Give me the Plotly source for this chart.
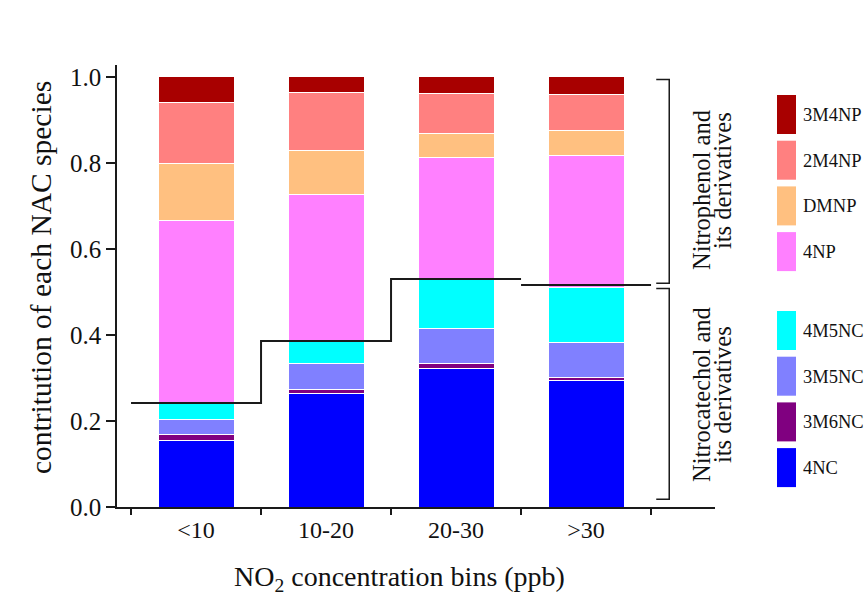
import plotly.graph_objects as go

# ---------------- data ----------------
categories = ["<10", "10-20", "20-30", ">30"]
species = ["4NC", "3M6NC", "3M5NC", "4M5NC", "4NP", "DMNP", "2M4NP", "3M4NP"]
v_4NC   = [0.154, 0.265, 0.323, 0.293]
v_3M6NC = [0.015, 0.009, 0.011, 0.009]
v_3M5NC = [0.034, 0.059, 0.081, 0.080]
v_4M5NC = [0.039, 0.053, 0.116, 0.128]
v_4NP   = [0.424, 0.340, 0.282, 0.308]
v_DMNP  = [0.133, 0.103, 0.055, 0.058]
v_2M4NP = [0.142, 0.134, 0.093, 0.084]
v_3M4NP = [0.059, 0.037, 0.039, 0.040]
group_boundary = [0.242, 0.386, 0.530, 0.516]   # nitrocatechol / nitrophenol split line
y_ticks = [0.0, 0.2, 0.4, 0.6, 0.8, 1.0]
legend_top = ["3M4NP", "2M4NP", "DMNP", "4NP"]
legend_bottom = ["4M5NC", "3M5NC", "3M6NC", "4NC"]

values = [v_4NC, v_3M6NC, v_3M5NC, v_4M5NC, v_4NP, v_DMNP, v_2M4NP, v_3M4NP]
colors = {
    "4NC": "#0000FF", "3M6NC": "#800080", "3M5NC": "#8080FF", "4M5NC": "#00FFFF",
    "4NP": "#FF80FF", "DMNP": "#FFC080", "2M4NP": "#FF8080", "3M4NP": "#A80000",
}

FONT = "Liberation Serif, Times New Roman, serif"
W, H = 864, 606
ML, MR, MT, MB = 117, 149, 65, 99
PW, PH = W - ML - MR, H - MT - MB

xs = list(range(len(categories)))
fig = go.Figure()
for name, vals in zip(species, values):
    fig.add_trace(go.Bar(
        x=xs, y=vals, name=name, width=0.585,
        marker=dict(color=colors[name], line=dict(color="white", width=1)),
        showlegend=False,
    ))

# step line separating the two groups
sx, sy = [], []
for i, b in enumerate(group_boundary):
    sx += [i - 0.5, i + 0.5]
    sy += [b, b]
    if i + 1 < len(group_boundary) and group_boundary[i + 1] < b:
        sx.append(None)
        sy.append(None)
fig.add_trace(go.Scatter(x=sx, y=sy, mode="lines", line=dict(color="#1a1a1a", width=2),
                         showlegend=False, hoverinfo="skip"))

def px2paper_x(px):
    return (px - ML) / PW

def px2paper_y(py):
    return (MT + PH - py) / PH

shapes = []
annotations = []

# brackets (data coordinates)
for (y0, y1) in [(0.994, 0.520), (0.508, 0.018)]:
    shapes.append(dict(type="path", xref="x", yref="y",
                       path=f"M 3.54,{y0} L 3.64,{y0} L 3.64,{y1} L 3.54,{y1}",
                       line=dict(color="#1a1a1a", width=1.5)))

# bracket labels
for lines, centers in [(["Nitrophenol and", "its derivatives"], [190, 181]),
                       (["Nitrocatechol and", "its derivatives"], [395, 395])]:
    for k, (txt, cy) in enumerate(zip(lines, centers)):
        annotations.append(dict(text=txt, xref="paper", yref="paper",
                                x=px2paper_x(701 + 21 * k), y=px2paper_y(cy),
                                xanchor="center", yanchor="middle", textangle=-90,
                                showarrow=False, font=dict(family=FONT, size=24.5, color="#111")))

# legend swatches
for names, top in [(legend_top, 95), (legend_bottom, 311)]:
    for k, nm in enumerate(names):
        t = top + k * 45.7
        shapes.append(dict(type="rect", xref="paper", yref="paper",
                           x0=px2paper_x(777), x1=px2paper_x(796),
                           y0=px2paper_y(t), y1=px2paper_y(t + 39),
                           fillcolor=colors[nm], line=dict(width=0)))
        annotations.append(dict(text=nm, xref="paper", yref="paper",
                                x=px2paper_x(801), y=px2paper_y(t + 20),
                                xanchor="left", yanchor="middle", showarrow=False,
                                font=dict(family=FONT, size=18.5, color="#111")))

# axis titles
annotations.append(dict(text="contritution of each NAC species", xref="paper", yref="paper",
                        x=px2paper_x(41), y=px2paper_y(278), textangle=-90,
                        xanchor="center", yanchor="middle", showarrow=False,
                        font=dict(family=FONT, size=29.5, color="#111")))
annotations.append(dict(text="NO<sub>2</sub> concentration bins (ppb)", xref="paper", yref="paper",
                        x=px2paper_x(399), y=px2paper_y(578),
                        xanchor="center", yanchor="middle", showarrow=False,
                        font=dict(family=FONT, size=28, color="#111")))

fig.update_layout(
    width=W, height=H, barmode="stack",
    margin=dict(l=ML, r=MR, t=MT, b=MB, pad=0),
    paper_bgcolor="white", plot_bgcolor="white",
    font=dict(family=FONT, size=24, color="#111"),
    shapes=shapes, annotations=annotations,
    xaxis=dict(range=[-0.608, PW / 130 - 0.608], tickmode="array", tickvals=xs,
               ticktext=categories, ticks="", ticklen=6, showgrid=False, zeroline=False,
               showline=True, linecolor="#1a1a1a", linewidth=1.5,
               tickfont=dict(family=FONT, size=24, color="#111"),
               minor=dict(tickmode="array", tickvals=[i - 0.5 for i in range(len(categories) + 1)],
                          ticks="outside", ticklen=6, tickwidth=1.5, tickcolor="#1a1a1a",
                          showgrid=False)),
    yaxis=dict(range=[0, PH / 430.2], tickmode="array", tickvals=y_ticks,
               ticktext=[f"{v:.1f}" for v in y_ticks], ticks="outside", ticklen=9,
               tickwidth=1.5, tickcolor="#1a1a1a", showgrid=False, zeroline=False,
               showline=True, linecolor="#1a1a1a", linewidth=1.5,
               tickfont=dict(family=FONT, size=25, color="#111")),
)

fig.write_html("out.html", config={"displayModeBar": False},
               post_script="document.body.style.margin='0';document.body.style.padding='0';"
                           "document.body.style.overflow='hidden';")
